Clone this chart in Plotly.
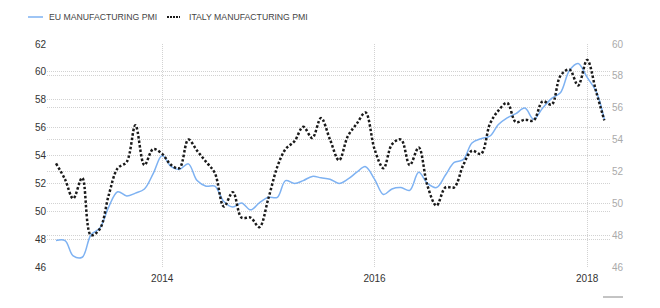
import pandas as pd
import plotly.graph_objects as go

dates = pd.date_range("2013-01-01", "2018-03-01", freq="MS")

eu_pmi = [47.9, 47.9, 46.8, 46.7, 48.3, 48.8, 50.3, 51.4, 51.1, 51.3, 51.6, 52.7,
          54.0, 53.2, 53.0, 53.4, 52.2, 51.8, 51.8, 50.7, 50.3, 50.6, 50.1, 50.6,
          51.0, 51.0, 52.2, 52.0, 52.2, 52.5, 52.4, 52.3, 52.0, 52.3, 52.8, 53.2,
          52.3, 51.2, 51.6, 51.7, 51.5, 52.8, 52.0, 51.7, 52.6, 53.5, 53.7, 54.9,
          55.2, 55.4, 56.2, 56.7, 57.0, 57.4, 56.6, 57.4, 58.1, 58.5, 60.1, 60.6,
          59.6, 58.6, 56.6]

italy_pmi = [52.5, 51.5, 50.3, 51.6, 48.0, 48.4, 50.5, 52.2, 52.6, 54.9, 52.4, 53.4,
             53.1, 52.4, 52.2, 54.0, 53.3, 52.6, 51.9, 49.8, 50.7, 49.1, 49.1, 48.5,
             50.3, 52.3, 53.4, 53.9, 54.8, 54.1, 55.35, 54.0, 52.7, 54.2, 55.0, 55.7,
             53.4, 52.2, 53.7, 54.0, 52.4, 53.5, 51.1, 49.85, 51.0, 51.0, 52.4, 53.3,
             53.1, 55.0, 55.8, 56.3, 55.1, 55.25, 55.2, 56.4, 56.2, 58.0, 58.4, 57.4,
             59.0, 57.0, 55.2]

series_names = ["EU MANUFACTURING PMI", "ITALY MANUFACTURING PMI"]

left_ticks = [46, 48, 50, 52, 54, 56, 58, 60, 62]
right_ticks = [46, 48, 50, 52, 54, 56, 58, 60]
x_ticks = ["2014-01-01", "2016-01-01", "2018-01-01"]
x_tick_labels = ["2014", "2016", "2018"]

FONT = "Liberation Sans, Arial, sans-serif"
BLUE = "#7eb2f2"
BLACK = "#1a1a1a"
GRID = "#d2d2d2"
DOT = "2.5px,2px"

# plot area in pixels (for placing the legend decoration in paper coords)
L, R, T, B = 47, 49, 44, 41
PW, PH = 660 - L - R, 308 - T - B


def px_x(p):
    return (p - L) / PW


def px_y(p):
    return (308 - B - p) / PH


fig = go.Figure()
fig.add_trace(go.Scatter(
    x=dates, y=eu_pmi, name=series_names[0], mode="lines",
    line=dict(color=BLUE, width=1.5, shape="spline", smoothing=1.0),
    yaxis="y", showlegend=False))
fig.add_trace(go.Scatter(
    x=dates, y=italy_pmi, name=series_names[1], mode="lines",
    line=dict(color=BLACK, width=2.5, dash=DOT, shape="spline", smoothing=1.0),
    yaxis="y2", showlegend=False))

grid = dict(showgrid=True, gridcolor=GRID, griddash="1px,1px", gridwidth=1,
            zeroline=False, showline=False, ticks="")

fig.update_layout(
    width=660, height=308,
    margin=dict(l=L, r=R, t=T, b=B),
    paper_bgcolor="white", plot_bgcolor="white",
    font=dict(family=FONT, size=10, color="#333"),
    showlegend=False,
    xaxis=dict(type="date", range=["2012-12-01", "2018-03-24"],
               tickvals=x_ticks, ticktext=x_tick_labels,
               ticklabelstandoff=4,
               tickfont=dict(size=10, color="#333"), **grid),
    yaxis=dict(range=[46, 62], tickvals=left_ticks,
               tickfont=dict(size=10, color="#333"), **grid),
    yaxis2=dict(range=[46, 60], tickvals=right_ticks, overlaying="y", side="right",
                tickfont=dict(size=10, color="#aaaaaa"), **grid),
    shapes=[
        # legend samples
        dict(type="line", xref="paper", yref="paper",
             x0=px_x(28), x1=px_x(43), y0=px_y(17), y1=px_y(17),
             line=dict(color=BLUE, width=1.5)),
        dict(type="line", xref="paper", yref="paper",
             x0=px_x(167), x1=px_x(180), y0=px_y(17), y1=px_y(17),
             line=dict(color=BLACK, width=2, dash="2px,1px")),
        # small mark bottom right
        dict(type="line", xref="paper", yref="paper",
             x0=px_x(603), x1=px_x(623), y0=px_y(297), y1=px_y(297),
             line=dict(color="#888", width=1)),
    ],
    annotations=[
        dict(text=series_names[0], xref="paper", yref="paper",
             x=px_x(47), y=px_y(17.5), xanchor="left", yanchor="middle",
             showarrow=False, font=dict(size=8.7, color="#444")),
        dict(text=series_names[1], xref="paper", yref="paper",
             x=px_x(187), y=px_y(17.5), xanchor="left", yanchor="middle",
             showarrow=False, font=dict(size=8.7, color="#444")),
    ],
)

fig.write_html("out.html")
